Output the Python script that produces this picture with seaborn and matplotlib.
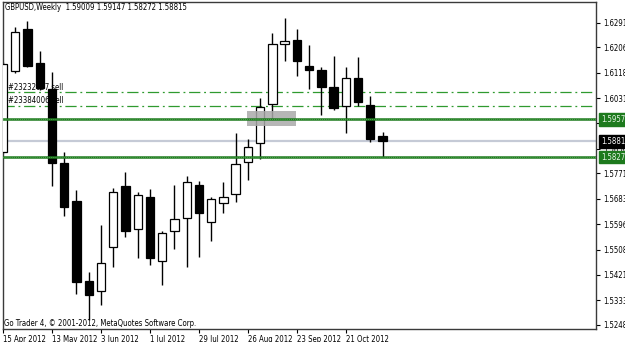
import matplotlib
matplotlib.use("Agg")
import matplotlib.pyplot as plt
import matplotlib.transforms as mtransforms
from matplotlib import font_manager as fm
from matplotlib.patches import Rectangle
import seaborn as sns
import numpy as np
import pandas as pd

# ---- data (weekly GBPUSD candles) ----
opens = [1.58461, 1.61234, 1.62693, 1.61510, 1.60613, 1.58061, 1.56750, 1.53991,
         1.53656, 1.55163, 1.57278, 1.55784, 1.56909, 1.54691, 1.55726, 1.56164,
         1.57312, 1.56046, 1.56681, 1.56992, 1.58116, 1.58751, 1.60106, 1.62165,
         1.62313, 1.61427, 1.61279, 1.60703, 1.60037, 1.60992, 1.60061, 1.59009]
highs = [1.61550, 1.62772, 1.62979, 1.61944, 1.61220, 1.58440, 1.57140, 1.54322,
         1.55933, 1.57198, 1.57750, 1.57081, 1.57164, 1.55736, 1.57312, 1.57633,
         1.57450, 1.56888, 1.57405, 1.59095, 1.58899, 1.60323, 1.62544, 1.63062,
         1.62682, 1.62141, 1.61372, 1.61761, 1.61392, 1.61716, 1.60382, 1.59147]
lows = [1.58400, 1.61180, 1.61382, 1.60580, 1.57278, 1.56243, 1.53553, 1.52656,
        1.53173, 1.54474, 1.55508, 1.54784, 1.54553, 1.53863, 1.55095, 1.54494,
        1.54839, 1.55391, 1.56336, 1.56736, 1.57485, 1.58199, 1.59554, 1.61589,
        1.61082, 1.60613, 1.59727, 1.59899, 1.59095, 1.60037, 1.58806, 1.58272]
closes = [1.61486, 1.62600, 1.61427, 1.60658, 1.58081, 1.56564, 1.53977, 1.53519,
          1.54612, 1.57060, 1.55736, 1.56967, 1.54805, 1.55667, 1.56129, 1.57405,
          1.56336, 1.56829, 1.56888, 1.58026, 1.58613, 1.60013, 1.62165, 1.62269,
          1.61589, 1.61279, 1.60682, 1.59958, 1.60992, 1.60165, 1.58889, 1.58815]

date_labels = ["15 Apr 2012", "13 May 2012", "3 Jun 2012", "1 Jul 2012",
               "29 Jul 2012", "26 Aug 2012", "23 Sep 2012", "21 Oct 2012"]
date_label_index = [0, 4, 8, 12, 16, 20, 24, 28]

price_ticks = [1.62910, 1.62060, 1.61185, 1.60310, 1.59435, 1.58560, 1.57710,
               1.56835, 1.55960, 1.55085, 1.54210, 1.53335, 1.52485]
price_tick_labels = ["1.62910", "1.62060", "1.61185", "1.60310", "1.59435", "1.58560",
                     "1.57710", "1.56835", "1.55960", "1.55085", "1.54210", "1.53335",
                     "1.52485"]

green_levels = [1.59577, 1.58278]
green_level_labels = ["1.59577", "1.58278"]
order_levels = [1.60510, 1.60037]
order_labels = ["#23232657 sell", "#23384006 sell"]
current_price = 1.58815
current_price_label = "1.58815"
zone_x = [19.94, 23.94]
zone_y = [1.59348, 1.59865]

title_text = "GBPUSD,Weekly  1.59009 1.59147 1.58272 1.58815"
footer_text = "Go Trader 4, \u00a9 2001-2012, MetaQuotes Software Corp."

# ---- styling ----
sns.set_theme(style="white")


def pick_font():
    cands = [("Liberation Sans Narrow", "normal"), ("DejaVu Sans Condensed", "normal"),
             ("DejaVu Sans", "condensed"), ("Noto Sans", "condensed"),
             ("Open Sans", "condensed"), ("Roboto", "condensed")]
    for fam, st in cands:
        try:
            path = fm.findfont(fm.FontProperties(family=fam, stretch=st),
                               fallback_to_default=False)
        except Exception:
            continue
        low = str(path).lower()
        if "condensed" in low or "narrow" in low:
            return fam, st
    return "Liberation Sans", "normal"


FAM, STRETCH = pick_font()
plt.rcParams["font.family"] = [FAM, "DejaVu Sans"]
plt.rcParams["font.stretch"] = STRETCH

W, H = 625, 342
fig = plt.figure(figsize=(W / 100, H / 100), dpi=100)
fig.patch.set_facecolor("white")

# fit the font size so that the title spans ~168 px like the reference
renderer = fig.canvas.get_renderer()
probe = fig.text(0, 0, title_text, fontsize=10, family=[FAM, "DejaVu Sans"], stretch=STRETCH)
wt = probe.get_window_extent(renderer).width
probe.remove()
probe = fig.text(0, 0, footer_text, fontsize=10, family=[FAM, "DejaVu Sans"], stretch=STRETCH)
wf = probe.get_window_extent(renderer).width
probe.remove()
FS = 0.5 * (10 * 168 / wt + 10 * 208 / wf)
FS = min(FS, 7.2)

ax = fig.add_axes([3 / W, (H - 329) / H, 593 / W, 327 / H])
ax.set_facecolor("white")

df = pd.DataFrame({"open": opens, "high": highs, "low": lows, "close": closes})
df["idx"] = np.arange(len(df))
df["bull"] = df["close"] >= df["open"]

XL = (0.0204, 48.43)
YL = (1.52346, 1.63624)

# level lines (behind candles)
ax.axhline(current_price, color="#c5cad6", lw=1.6, zorder=1)
for lv in order_levels:
    ax.axhline(lv, color="#2f9a2f", lw=0.9, dashes=(9, 3, 1.5, 3), zorder=1)

# order labels (under candles)
for lv, lab in zip(order_levels, order_labels):
    ax.text(XL[0] + 4.5 / 593 * (XL[1] - XL[0]), lv + 0.0002, lab, fontsize=FS,
            color="black", va="bottom", ha="left", zorder=1.5)

# wicks
ax.vlines(df["idx"], df["low"], df["high"], color="black", lw=1.0, zorder=2.5)
# bodies
body_bottom = np.minimum(df["open"], df["close"])
body_height = np.abs(df["close"] - df["open"])
ax.bar(df["idx"], body_height, bottom=body_bottom, width=0.68,
       color=np.where(df["bull"], "white", "black"), edgecolor="black",
       linewidth=0.9, zorder=3)

# gray zone rectangle
ax.add_patch(Rectangle((zone_x[0], zone_y[0]), zone_x[1] - zone_x[0], zone_y[1] - zone_y[0],
                       facecolor="#a9a9a9", edgecolor="none", alpha=0.85, zorder=3.5))

# green solid lines
for lv in green_levels:
    ax.axhline(lv, color="#1d7a1d", lw=1.8, zorder=4)
    ax.axhline(lv, color="#7fc47f", lw=0.5, ls=(0, (1, 2)), zorder=4.1)

ax.set_xlim(*XL)
ax.set_ylim(*YL)

# x ticks
ax.set_xticks(date_label_index)
ax.set_xticklabels(date_labels, ha="left", fontsize=FS)
for lbl in ax.get_xticklabels():
    lbl.set_transform(lbl.get_transform() + mtransforms.ScaledTranslation(1 / 100, 0, fig.dpi_scale_trans))
ax.tick_params(axis="x", direction="out", length=3, width=0.8, color="black", pad=1.5,
               labelcolor="black", bottom=True)

# y ticks on right
ax.yaxis.tick_right()
ax.set_yticks(price_ticks)
ax.set_yticklabels(price_tick_labels, fontsize=FS)
ax.tick_params(axis="y", direction="out", length=3, width=0.8, color="black", pad=2,
               labelcolor="black", right=True)

for side in ["top", "right", "bottom", "left"]:
    ax.spines[side].set_visible(True)
    ax.spines[side].set_color("#3a3a3a")
    ax.spines[side].set_linewidth(1.0)

# right-side boxed price labels
trans = mtransforms.blended_transform_factory(ax.transAxes, ax.transData)
for lv, lab in zip(green_levels, green_level_labels):
    ax.text(1.0085, lv, lab, transform=trans, fontsize=FS, color="#e8f5e8",
            va="center", ha="left", clip_on=False, zorder=10,
            bbox=dict(boxstyle="square,pad=0.25", facecolor="#1d7a1d", edgecolor="#1d7a1d"))
ax.text(1.0085, current_price, current_price_label, transform=trans, fontsize=FS,
        color="white", va="center", ha="left", clip_on=False, zorder=10,
        bbox=dict(boxstyle="square,pad=0.25", facecolor="black", edgecolor="black"))

# title and footer
ax.text(2 / 593, 1 - 6 / 327, title_text, transform=ax.transAxes, fontsize=FS,
        color="black", va="center", ha="left", zorder=6)
ax.text(1 / 593, 6 / 327, footer_text, transform=ax.transAxes, fontsize=FS,
        color="black", va="center", ha="left", zorder=6)

fig.savefig("out.png", dpi=100, facecolor="white")
